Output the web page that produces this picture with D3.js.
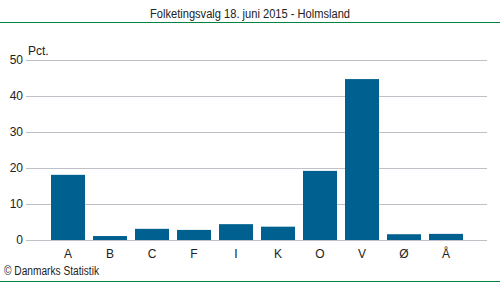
<!DOCTYPE html>
<meta charset="utf-8">
<style>
    body { margin: 0; background: #fff; }
    text { font-family: "Liberation Sans", Arial, sans-serif; fill: #222; }
    .title { font-size: 12px; }
    .tick-label { font-size: 12px; }
    .grid line { stroke: #c0c0c8; stroke-width: 1px; }
</style>
<svg width="500" height="282"></svg>
<script src="https://d3js.org/d3.v7.min.js"></script>
<script>
    // Party letters and vote share (%)
    const parties = ["A", "B", "C", "F", "I", "K", "O", "V", "Ø", "Å"];
    const shares = [18.1, 1.1, 3.1, 2.8, 4.4, 3.7, 19.2, 44.7, 1.6, 1.7];
    const yTicks = [0, 10, 20, 30, 40, 50];

    const svg = d3.select("svg");

    const x = d3.scaleBand()
        .domain(parties)
        .range([26, 488])
        .paddingInner(8 / 42)
        .paddingOuter(0.5 + 4 / 42);

    const y = d3.scaleLinear()
        .domain([0, 50])
        .range([240, 60]);

    // Title and green rules
    svg.append("text")
        .attr("class", "title")
        .attr("x", 250)
        .attr("y", 18)
        .attr("text-anchor", "middle")
        .attr("textLength", 200)
        .attr("lengthAdjust", "spacingAndGlyphs")
        .text("Folketingsvalg 18. juni 2015 - Holmsland");

    svg.append("line")
        .attr("x1", 0).attr("x2", 500)
        .attr("y1", 22.5).attr("y2", 22.5)
        .attr("stroke", "#00843f");

    svg.append("line")
        .attr("x1", 0).attr("x2", 500)
        .attr("y1", 281.5).attr("y2", 281.5)
        .attr("stroke", "#00843f");

    // Gridlines
    svg.append("g")
        .attr("class", "grid")
        .selectAll("line")
        .data(yTicks)
        .join("line")
        .attr("x1", 26)
        .attr("x2", 487)
        .attr("y1", d => Math.round(y(d)) + 0.5)
        .attr("y2", d => Math.round(y(d)) + 0.5);

    // Y tick labels
    svg.append("g")
        .selectAll("text")
        .data(yTicks)
        .join("text")
        .attr("class", "tick-label")
        .attr("x", 23)
        .attr("y", d => y(d) + 4)
        .attr("text-anchor", "end")
        .text(d => d);

    svg.append("text")
        .attr("class", "tick-label")
        .attr("x", 28)
        .attr("y", 55)
        .text("Pct.");

    // Bars
    svg.append("g")
        .selectAll("rect")
        .data(parties)
        .join("rect")
        .attr("x", d => x(d))
        .attr("width", x.bandwidth())
        .attr("y", (d, i) => y(shares[i]))
        .attr("height", (d, i) => y(0) - y(shares[i]))
        .attr("fill", "#00608f");

    // X labels
    svg.append("g")
        .selectAll("text")
        .data(parties)
        .join("text")
        .attr("class", "tick-label")
        .attr("x", d => x(d) + x.bandwidth() / 2)
        .attr("y", 258)
        .attr("text-anchor", "middle")
        .text(d => d);

    svg.append("text")
        .attr("class", "tick-label")
        .attr("x", 4)
        .attr("y", 275)
        .attr("textLength", 95)
        .attr("lengthAdjust", "spacingAndGlyphs")
        .text("© Danmarks Statistik");
</script>
